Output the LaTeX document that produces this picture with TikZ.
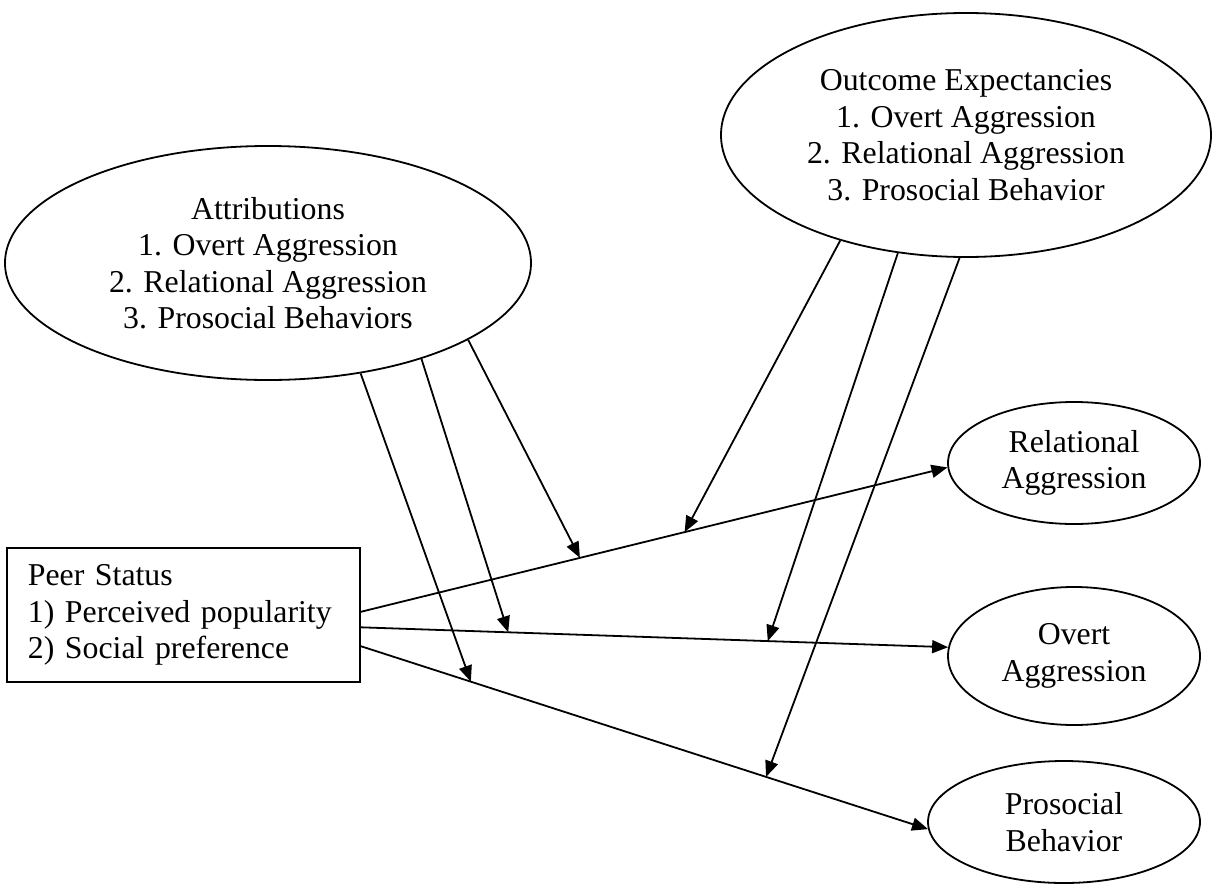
\documentclass[tikz,border=0pt]{standalone}
\usepackage{fontspec}
\setmainfont{Liberation Serif}
\usetikzlibrary{arrows.meta,shapes.geometric}
\begin{document}
\begin{tikzpicture}[x=1pt,y=-1pt,
  every node/.style={font=\fontsize{31.8}{36.5}\selectfont},
  oval/.style={draw, ellipse, line width=1.8pt, inner sep=0pt, align=center},
  box/.style={draw, rectangle, line width=1.8pt, align=left},
  link/.style={line width=1.8pt, -{Triangle[length=16pt,width=13pt]}},
]
\useasboundingbox (0,0) rectangle (1217,888);

% moderators
\node[oval, minimum width=526pt, minimum height=234pt] (attr) at (268,263)
  {Attributions\\1. Overt Aggression\\2. Relational Aggression\\3. Prosocial Behaviors};
\node[oval, minimum width=490pt, minimum height=244pt] (outc) at (966,135)
  {Outcome Expectancies\\1. Overt Aggression\\2. Relational Aggression\\3. Prosocial Behavior};

% predictor
\node[box, anchor=north west, text width=311pt, inner xsep=21pt, minimum height=134pt] (peer) at (6,547)
  {Peer Status\\1) Perceived popularity\\2) Social preference};

% outcomes
\node[oval, minimum width=252pt, minimum height=122pt] (rel) at (1074,463) {Relational\\Aggression};
\node[oval, minimum width=252pt, minimum height=138pt] (ovt) at (1074,656) {Overt\\Aggression};
\node[oval, minimum width=272pt, minimum height=122pt] (pro) at (1064,822) {Prosocial\\Behavior};

% direct paths, with the points where the moderators meet them
\draw[link] (peer.1) -- coordinate[pos=0.3735] (relA) coordinate[pos=0.552] (relO) (rel.182);
\draw[link] (peer.-4.2) -- coordinate[pos=0.251] (ovtA) coordinate[pos=0.693] (ovtO) (ovt.176.4);
\draw[link] (peer.-10.6) -- coordinate[pos=0.194] (proA) coordinate[pos=0.7145] (proO) (pro.183.4);

% moderating paths
\draw[link] (attr.-21.5) -- (relA);
\draw[link] (attr.-32.2) -- (ovtA);
\draw[link] (attr.-50) -- (proA);
\draw[link] (outc.-140.4) -- (relO);
\draw[link] (outc.-120.2) -- (ovtO);
\draw[link] (outc.-93.3) -- (proO);
\end{tikzpicture}
\end{document}
